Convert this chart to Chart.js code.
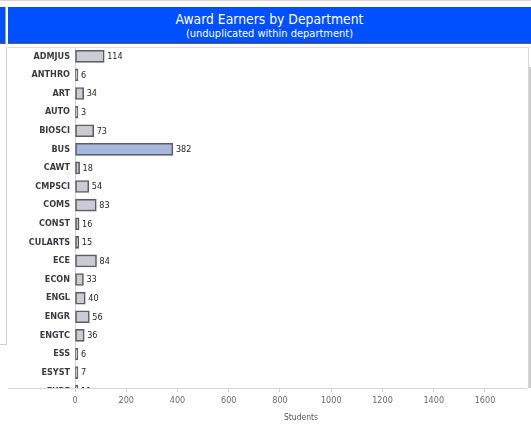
<!DOCTYPE html>
<html>
<head>
<meta charset="utf-8">
<script src="https://cdn.jsdelivr.net/npm/chart.js@4.4.1/dist/chart.umd.min.js"></script>
<style>
  html, body { margin: 0; padding: 0; background: #ffffff; width: 531px; height: 429px; overflow: hidden; position: relative; }
  .abs { position: absolute; }
  #topline { left: 0; top: 0; width: 531px; height: 1px; background: #d4d4d4; }
  #leftblue { left: 0; top: 7px; width: 5px; height: 36px; background: #0050ff; border-right: 1px solid #a0a0a0; border-bottom: 1px solid #606060; }
  #header { left: 8px; top: 7px; width: 523px; height: 36px; background: #0050ff; border-bottom: 1px solid #606060; color: #ffffff; text-align: center; font-family: "DejaVu Sans Condensed", "DejaVu Sans", sans-serif; }
  #title { position: absolute; left: 0; right: 0; top: 4px; font-size: 13.8px; line-height: 16px; }
  #subtitle { position: absolute; left: 0; right: 0; top: 20px; font-size: 11px; line-height: 13px; }
  #leftpanel { left: 0; top: 47px; width: 6px; height: 297px; border-right: 1px solid #cfcfcf; border-bottom: 1px solid #cfcfcf; }
  #paneltop { left: 8px; top: 47px; width: 521px; height: 1px; background: #dcdcdc; }
  #panelright { left: 528px; top: 47px; width: 1px; height: 341px; background: #d6d6d6; }
  #scroll { left: 529px; top: 67px; width: 2px; height: 321px; background: #cdcdcd; }
  #wrap { left: 8px; top: 47px; width: 520px; height: 382px; }
</style>
</head>
<body>
<div id="topline" class="abs"></div>
<div id="leftblue" class="abs"></div>
<div id="header" class="abs">
  <div id="title">Award Earners by Department</div>
  <div id="subtitle">(unduplicated within department)</div>
</div>
<div id="leftpanel" class="abs"></div>
<div id="wrap" class="abs"><canvas id="c"></canvas></div>
<div id="paneltop" class="abs"></div>
<div id="panelright" class="abs"></div>
<div id="scroll" class="abs"></div>
<script>
// ---- data ----
const categories = ['ADMJUS','ANTHRO','ART','AUTO','BIOSCI','BUS','CAWT','CMPSCI','COMS','CONST','CULARTS','ECE','ECON','ENGL','ENGR','ENGTC','ESS','ESYST','EXPE'];
const students = [114, 6, 34, 3, 73, 382, 18, 54, 83, 16, 15, 84, 33, 40, 56, 36, 6, 7, 11];
const xTickValues = [0, 200, 400, 600, 800, 1000, 1200, 1400, 1600];
const highlighted = ['BUS'];
const axisTitle = 'Students';

// ---- styles ----
const COND = '"DejaVu Sans Condensed", "DejaVu Sans", sans-serif';
const Y_MIN = -0.5, Y_MAX = 17.83;
const X_MAX = 1764;

const fills = categories.map(c => highlighted.includes(c) ? '#a7b8dc' : '#c9ccd5');

const valueLabels = {
  id: 'valueLabels',
  afterDatasetsDraw(chart) {
    const ctx = chart.ctx;
    const area = chart.chartArea;
    const meta = chart.getDatasetMeta(0);
    const yScale = chart.scales.y;
    ctx.save();
    ctx.beginPath();
    ctx.rect(0, 0, chart.width, area.bottom);
    ctx.clip();
    ctx.font = '9px ' + COND;
    ctx.fillStyle = '#1e1e1e';
    ctx.textAlign = 'left';
    ctx.textBaseline = 'middle';
    meta.data.forEach((el, i) => {
      ctx.fillText(String(students[i]), el.x + 3, el.y + 0.5);
    });
    // categories beyond the last full tick (clipped at the panel edge)
    ctx.font = 'bold 9px ' + COND;
    ctx.fillStyle = '#3a3a44';
    ctx.textAlign = 'right';
    categories.forEach((c, i) => {
      if (i > Math.floor(Y_MAX)) {
        ctx.fillText(c, area.left - 5, yScale.getPixelForValue(i) + 0.5);
      }
    });
    ctx.restore();
    // baseline rule spanning the whole panel
    ctx.save();
    ctx.strokeStyle = '#dadada';
    ctx.lineWidth = 1;
    ctx.beginPath();
    ctx.moveTo(0, Math.round(area.bottom) + 0.5);
    ctx.lineTo(area.right, Math.round(area.bottom) + 0.5);
    ctx.stroke();
    ctx.restore();
  }
};

new Chart(document.getElementById('c'), {
  type: 'bar',
  data: {
    datasets: [{
      data: students.map((v, i) => ({ x: v, y: i })),
      backgroundColor: fills,
      borderColor: '#5c5c63',
      borderWidth: 1.6,
      borderSkipped: false,
      barThickness: 12,
      minBarLength: 3
    }]
  },
  options: {
    indexAxis: 'y',
    responsive: true,
    maintainAspectRatio: false,
    animation: false,
    devicePixelRatio: 1,
    layout: { padding: { left: 0, right: 1, top: 0, bottom: 0 } },
    plugins: { legend: { display: false }, tooltip: { enabled: false }, title: { display: false } },
    scales: {
      y: {
        type: 'linear',
        reverse: true,
        bounds: 'data',
        offset: false,
        min: Y_MIN,
        max: Y_MAX,
        afterBuildTicks(scale) {
          scale.ticks = categories.map((c, i) => ({ value: i })).filter(t => t.value <= Y_MAX);
          scale.min = Y_MIN;
          scale.max = Y_MAX;
        },
        afterFit(scale) {
          scale.width = 67;
          scale.paddingTop = 0;
          scale.paddingBottom = 0;
        },
        grid: { display: false, drawTicks: false },
        border: { display: true, color: '#d4d4d4', width: 1 },
        ticks: {
          autoSkip: false,
          padding: 5,
          color: '#3a3a44',
          font: { family: COND, size: 9, weight: 'bold' },
          callback: (v) => categories[v] ?? ''
        }
      },
      x: {
        type: 'linear',
        bounds: 'data',
        min: 0,
        max: X_MAX,
        afterBuildTicks(scale) {
          scale.ticks = xTickValues.map(v => ({ value: v }));
          scale.min = 0;
          scale.max = X_MAX;
        },
        afterFit(scale) {
          scale.height = 41;
          scale.paddingLeft = 0;
          scale.paddingRight = 0;
        },
        grid: { drawOnChartArea: false, drawTicks: true, tickLength: 4, color: '#cfcfcf' },
        border: { display: false },
        ticks: {
          padding: 3,
          color: '#6a6a6a',
          maxRotation: 0,
          autoSkip: false,
          font: { family: COND, size: 9 },
          callback: (v) => String(v)
        },
        title: {
          display: true,
          text: axisTitle,
          color: '#555555',
          font: { family: COND, size: 8.5 },
          padding: { top: 2, bottom: 6 }
        }
      }
    }
  },
  plugins: [valueLabels]
});
</script>
</body>
</html>
